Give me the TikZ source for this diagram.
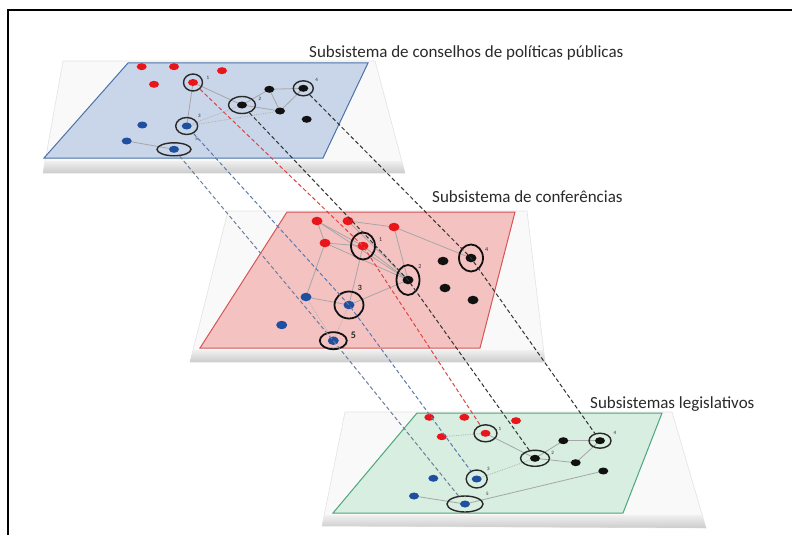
\documentclass[tikz,border=0pt]{standalone}
\usepackage{fontspec}
\setmainfont{Carlito}
\usetikzlibrary{shapes.geometric}
\definecolor{dred}{HTML}{E8151B}
\definecolor{dblue}{HTML}{1F4F9E}
\definecolor{dblack}{HTML}{111111}
\definecolor{pblue}{HTML}{C9D5E8}
\definecolor{bblue}{HTML}{4C72A8}
\definecolor{pred}{HTML}{F5C2C2}
\definecolor{bred}{HTML}{D65656}
\definecolor{pgreen}{HTML}{D7EEE0}
\definecolor{bgreen}{HTML}{4DA67C}
\definecolor{txt}{HTML}{2A2A2A}
\definecolor{dline}{HTML}{333333}
\definecolor{bline}{HTML}{5C7AAE}
\definecolor{gbline}{HTML}{6E7F99}
\definecolor{rline}{HTML}{E04444}
\begin{document}
\begin{tikzpicture}[x=1pt,y=-1pt,
  dot/.style={ellipse,inner sep=0pt,minimum width=10pt,minimum height=7pt},
  bigdot/.style={ellipse,inner sep=0pt,minimum width=11pt,minimum height=8.5pt},
  rd/.style={dot,fill=dred},
  bd/.style={dot,fill=dblack},
  ud/.style={dot,fill=dblue},
  ring/.style={ellipse,draw=dblack!90,line width=1.4pt,inner sep=0pt},
  mring/.style={ellipse,draw=dblack,line width=1.8pt,inner sep=0pt},
  edge/.style={draw=gray!70,line width=0.8pt},
  dedge/.style={draw=gray!60,line width=0.8pt,densely dotted},
  proj/.style={line width=1pt,dash pattern=on 4pt off 2.5pt},
  num/.style={font=\fontsize{5}{5}\selectfont,text=txt,inner sep=0pt},
  title/.style={font=\fontsize{17}{19}\selectfont,text=txt,anchor=base west,inner sep=0pt},
  slab/.style={fill=gray!5,draw=gray!22,line width=0.6pt}
]
\useasboundingbox (0,0) rectangle (792,535);
\begin{scope}
\clip (0,0) rectangle (792,535);
\fill[white] (0,0) rectangle (792,535);
\draw[line width=2pt] (8,10) rectangle (800,545);
\end{scope}

% ---------- slabs and planes ----------
\path[slab] (63,61) -- (375,61) -- (405,173) -- (43,173) -- cycle;
\shade[top color=gray!12,bottom color=gray!40] (45.3,161) -- (401.8,161) -- (405,173) -- (43,173) -- cycle;
\path[fill=pblue,draw=bblue,line width=1pt] (128,63) -- (368,63) -- (323,158) -- (44,158) -- cycle;

\path[slab] (228,211) -- (527,211) -- (545,362) -- (190,362) -- cycle;
\shade[top color=gray!12,bottom color=gray!40] (193,350) -- (543.6,350) -- (545,362) -- (190,362) -- cycle;
\path[fill=pred,draw=bred,line width=1pt] (287,212) -- (515,212) -- (480,348) -- (200,348) -- cycle;

\path[slab] (345,412) -- (672,412) -- (706,528) -- (322,526) -- cycle;
\shade[top color=gray!12,bottom color=gray!40] (324.6,515) -- (702,515) -- (706,528) -- (322,526) -- cycle;
\path[fill=pgreen,draw=bgreen,line width=1pt] (417,413) -- (662,413) -- (623,513) -- (333,513) -- cycle;

% ---------- titles ----------
\node[title] (t1) at (309,57) {Subsistema de conselhos de políticas públicas};
\node[title] (t2) at (432,202) {Subsistema de conferências};
\node[title] (t3) at (590,408) {Subsistemas legislativos};

% ---------- node positions (coordinates) ----------
% top
\coordinate (tr1) at (141.7,66.7); \coordinate (tr2) at (174,66.7);
\coordinate (tr3) at (222,70.7);   \coordinate (tr4) at (154,84.3);
\coordinate (tc1) at (193,82.5);
\coordinate (tb1) at (269.3,89.3); \coordinate (tc4) at (303.3,88.3);
\coordinate (tc2) at (242,105);    \coordinate (tb2) at (280,111);
\coordinate (tb3) at (306.7,119.3);
\coordinate (tc3) at (186.7,126);  \coordinate (tu1) at (142.3,125);
\coordinate (tu2) at (126.7,141);  \coordinate (tc5) at (174,149.3);
% middle
\coordinate (mr1) at (317,221); \coordinate (mr2) at (348,221);
\coordinate (mr3) at (394,227); \coordinate (mr4) at (325,243);
\coordinate (mc1) at (363,246);
\coordinate (mc2) at (408,280); \coordinate (mc4) at (471,258);
\coordinate (mb1) at (443,261); \coordinate (mb2) at (445,288);
\coordinate (mb3) at (473,300);
\coordinate (mc3) at (349,305); \coordinate (mu1) at (306,297);
\coordinate (mu2) at (281.7,325); \coordinate (mc5) at (333.3,340.7);
% bottom
\coordinate (br1) at (429.3,417.3); \coordinate (br2) at (464.3,417.3);
\coordinate (br3) at (516,420.7);   \coordinate (br4) at (441.7,436.7);
\coordinate (bc1) at (485.5,433.3);
\coordinate (bb1) at (563.3,440.7); \coordinate (bc4) at (600,440.7);
\coordinate (bc2) at (535,458.3);   \coordinate (bb2) at (575.7,462.7);
\coordinate (bb3) at (603.3,471);
\coordinate (bc3) at (476.7,479);   \coordinate (bu1) at (433.3,478.3);
\coordinate (bu2) at (414,496);     \coordinate (bc5) at (465,504);

% ---------- edges within planes ----------
\draw[edge] (tc1) -- (tc3);
\draw[edge] (tc1) -- (tc2);
\draw[edge] (tc2) -- (tb1);
\draw[edge] (tc2) -- (tb2);
\draw[edge] (tb1) -- (tc4);
\draw[edge] (tb1) -- (tb2);
\draw[edge] (tc4) -- (tb2);
\draw[dedge] (tc3) -- (tc2);
\draw[dedge] (tc3) -- (tb2);
\draw[edge] (tu2) -- (tc5);

\draw[edge] (mr1) -- (mr4);
\draw[edge] (mr1) -- (mc1);
\draw[edge] (mr1) -- (mc2);
\draw[edge] (mr2) -- (mr3);
\draw[edge] (mr2) -- (mc2);
\draw[edge] (mr3) -- (mc2);
\draw[edge] (mr3) -- (mc4);
\draw[edge] (mr4) -- (mc1);
\draw[edge] (mr4) -- (mc2);
\draw[edge] (mr4) -- (mu1);
\draw[edge] (mc1) -- (mc2);
\draw[edge] (mc1) -- (mc3);
\draw[edge] (mu1) -- (mc3);
\draw[edge] (mc3) -- (mc2);
\draw[dedge] (mc3) -- (mc5);
\draw[dedge] (mu1) -- (mc5);

\draw[dedge] (br4) -- (bc1);
\draw[edge] (bc1) -- (bc2);
\draw[edge] (bc2) -- (bb1);
\draw[edge] (bb1) -- (bc4);
\draw[edge] (bc4) -- (bb2);
\draw[edge] (bc2) -- (bb2);
\draw[dedge] (bc3) -- (bc2);
\draw[edge] (bu2) -- (bc5);
\draw[edge] (bc5) -- (bb3);

% ---------- dots ----------
\foreach \n in {tr1,tr2,tr3,tr4,tc1,br1,br2,br3,br4,bc1} \node[rd] (d\n) at (\n) {};
\foreach \n in {tb1,tc4,tc2,tb2,tb3,bb1,bc4,bc2,bb2,bb3} \node[bd] (d\n) at (\n) {};
\foreach \n in {tc3,tu1,tu2,tc5,bc3,bu1,bu2,bc5} \node[ud] (d\n) at (\n) {};
\foreach \n in {mr1,mr2,mr3,mr4,mc1} \node[bigdot,fill=dred] (d\n) at (\n) {};
\foreach \n in {mc2,mc4,mb1,mb2,mb3} \node[bigdot,fill=dblack] (d\n) at (\n) {};
\foreach \n in {mc3,mu1,mu2,mc5} \node[bigdot,fill=dblue] (d\n) at (\n) {};

% ---------- rings ----------
\node[ring,minimum width=19pt,minimum height=17pt] (rtc1) at (tc1) {};
\node[ring,minimum width=20pt,minimum height=15pt] (rtc4) at (tc4) {};
\node[ring,minimum width=27pt,minimum height=17pt] (rtc2) at (tc2) {};
\node[ring,minimum width=22pt,minimum height=17pt] (rtc3) at (tc3) {};
\node[ring,minimum width=34pt,minimum height=13pt] (rtc5) at (tc5) {};

\node[mring,minimum width=24pt,minimum height=27pt] (rmc1) at (mc1) {};
\node[mring,minimum width=23pt,minimum height=30pt] (rmc2) at (mc2) {};
\node[mring,minimum width=24pt,minimum height=27pt] (rmc4) at (mc4) {};
\node[mring,minimum width=29pt,minimum height=27pt] (rmc3) at (mc3) {};
\node[mring,minimum width=27pt,minimum height=17pt] (rmc5) at (mc5) {};

\node[ring,minimum width=23pt,minimum height=17pt] (rbc1) at (bc1) {};
\node[ring,minimum width=22pt,minimum height=15pt] (rbc4) at (bc4) {};
\node[ring,minimum width=29pt,minimum height=16pt] (rbc2) at (bc2) {};
\node[ring,minimum width=21pt,minimum height=18pt] (rbc3) at (bc3) {};
\node[ring,minimum width=36pt,minimum height=16pt] (rbc5) at (bc5) {};

% ---------- projection lines ----------
\draw[proj,draw=gbline] (rtc5) -- (mc5) -- (rbc5);
\draw[proj,draw=bline] (rtc3) -- (mc3) -- (rbc3);
\draw[proj,draw=rline] (rtc1) -- (mc1) -- (rbc1);
\draw[proj,draw=dline] (rtc2) -- (mc2) -- (rbc2);
\draw[proj,draw=dline] (rtc4) -- (mc4) -- (rbc4);

% ---------- numbers ----------
\node[num] (n1t) at (208,78) {1};
\node[num] (n2t) at (260,99) {2};
\node[num] (n3t) at (199.3,116) {3};
\node[num] (n4t) at (316.7,80) {4};
\node[num] (n5t) at (196.7,139.3) {5};
\node[num,font=\fontsize{6}{6}\selectfont] (n1m) at (380.7,240) {1};
\node[num,font=\fontsize{6}{6}\selectfont] (n2m) at (420,266.7) {2};
\node[num,font=\fontsize{8}{8}\selectfont\bfseries] (n3m) at (360,288.3) {3};
\node[num,font=\fontsize{6}{6}\selectfont] (n4m) at (486.7,250) {4};
\node[num,font=\fontsize{10}{10}\selectfont\bfseries] (n5m) at (353.3,335) {5};
\node[num] (n1b) at (500,429) {1};
\node[num] (n2b) at (552.7,453.3) {2};
\node[num] (n3b) at (488.3,469.3) {3};
\node[num] (n4b) at (615,433) {4};
\node[num] (n5b) at (487.3,494) {5};
\end{tikzpicture}
\end{document}
